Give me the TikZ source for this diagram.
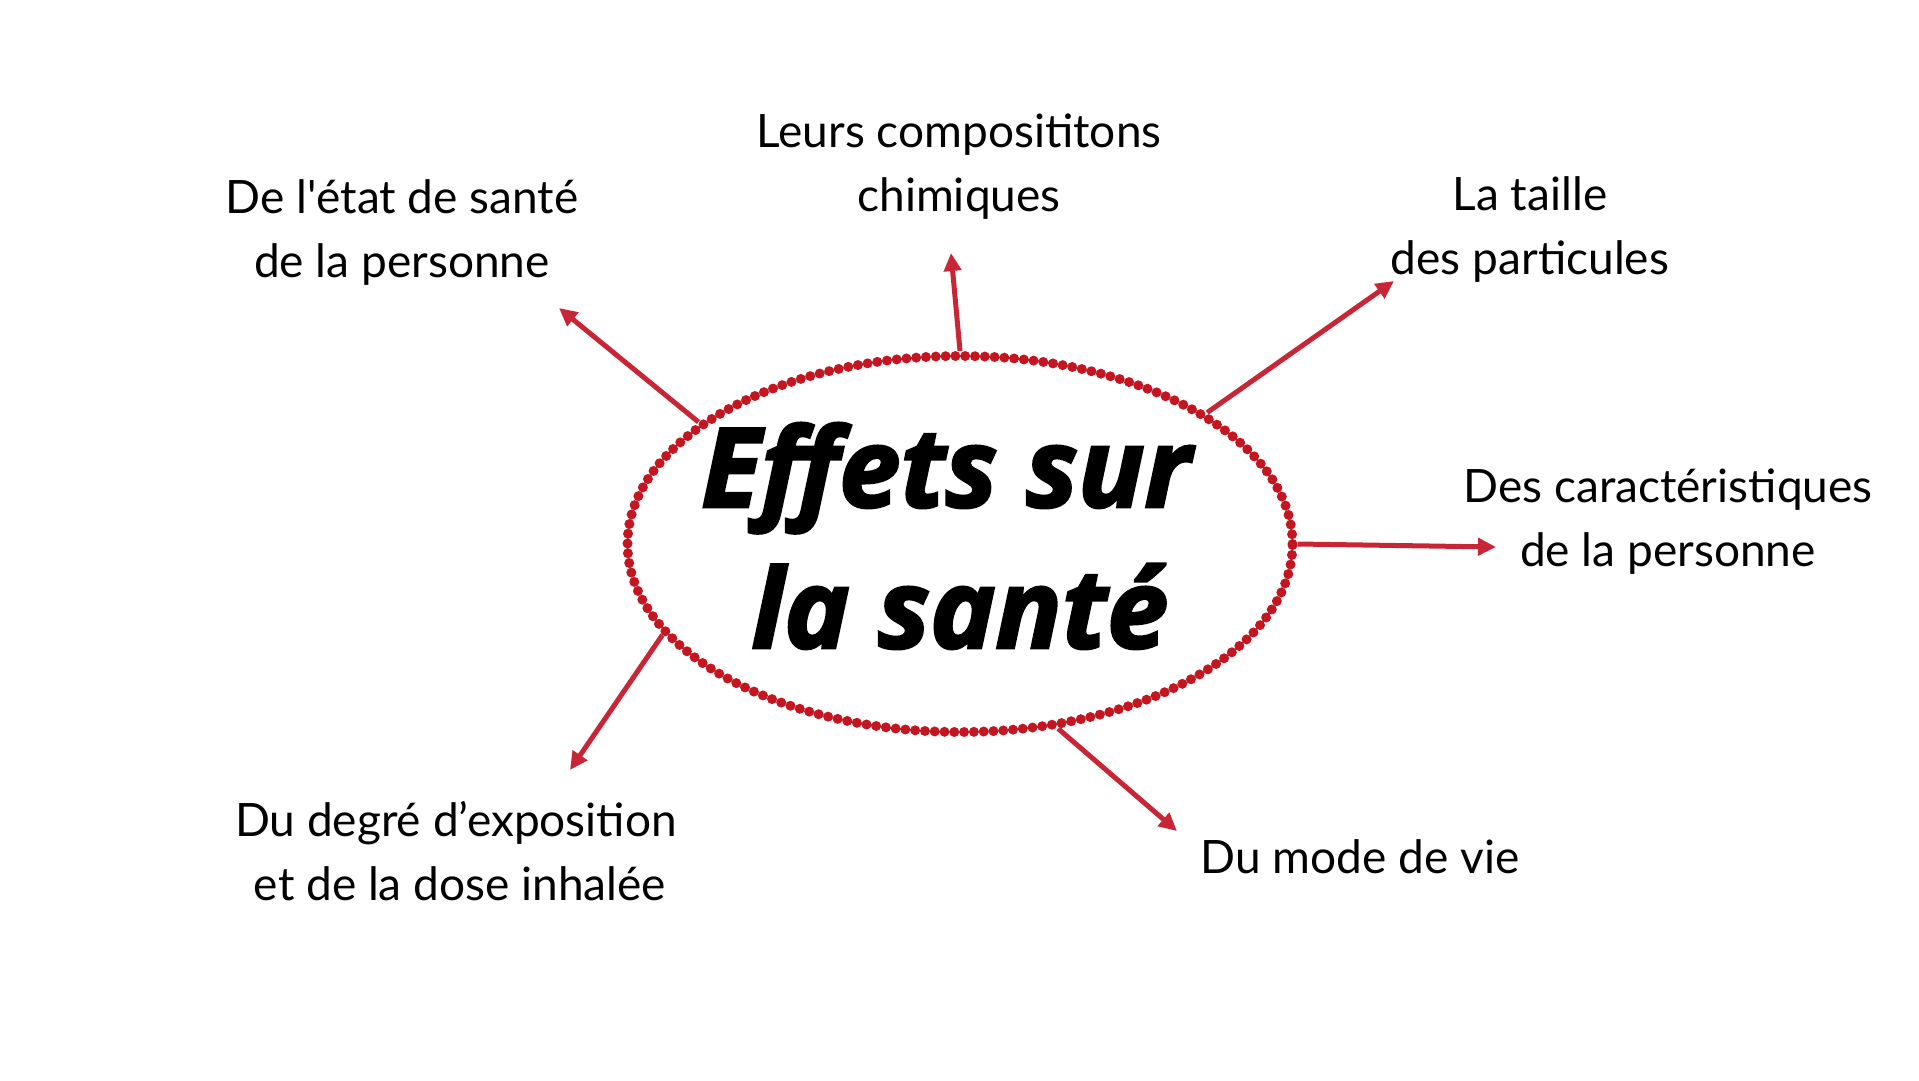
\documentclass[tikz,border=0pt]{standalone}
\usepackage{fontspec}
\setmainfont{Lato}
\newfontfamily\titlefont{Open Sans}[BoldItalicFeatures={FakeBold=2.5}]
\usetikzlibrary{shapes.geometric,arrows.meta}
\definecolor{beadred}{RGB}{196,22,32}
\definecolor{beaddark}{RGB}{160,10,20}
\definecolor{arrowred}{RGB}{200,38,54}
\tikzset{
  label/.style={align=center,font=\fontsize{46}{64}\selectfont,text=black,inner sep=0pt},
  conn/.style={draw=arrowred,line width=5pt,-{Triangle[length=18pt,width=17pt]}},
  beads/.style={ellipse,minimum width=665pt,minimum height=376pt,inner sep=0pt,
    draw=beadred,line width=10pt,dash pattern=on 0pt off 9.8pt,line cap=round,
    preaction={draw=beaddark,line width=2.5pt}},
  titletext/.style={anchor=base,font=\titlefont\bfseries\itshape\fontsize{110}{141}\selectfont,text=black,inner sep=0pt}
}
\begin{document}
\begin{tikzpicture}[x=1pt,y=-1pt]
\useasboundingbox[fill=white] (0,0) rectangle (1919,1080);
\node[beads] (ell) at (960,544) {};
\node[titletext] (title1) at (946,507) {Effets sur};
\node[titletext] (title2) at (960,648) {la santé};

\node[label] (l1) at (402,232) {De l\textquotesingle état de santé\\de la personne};
\node[label] (l2) at (959,167) {Leurs composititons\\chimiques};
\node[label] (l3) at (1530,229) {La taille\\des particules};
\node[label] (l4) at (1668,522) {Des caractéristiques\\de la personne};
\node[label] (l5) at (456,851) {Du degré d’exposition\\\hspace*{8pt}et de la dose inhalée};
\node[label] (l6) at (1360,857) {Du mode de vie};

\coordinate (t1) at (559,308);
\coordinate (t2) at (951,253);
\coordinate (t3) at (1394,281);
\coordinate (t4) at (1496,547);
\coordinate (t5) at (570,770);
\coordinate (t6) at (1177,831);

\draw[conn] (ell.155) -- (t1);
\draw[conn] (ell.90) -- (t2);
\draw[conn] (ell.28.6) -- (t3);
\draw[conn] (ell.0) -- (t4);
\draw[conn] (ell.197) -- (t5);
\draw[conn] (ell.298) -- (t6);
\end{tikzpicture}
\end{document}
